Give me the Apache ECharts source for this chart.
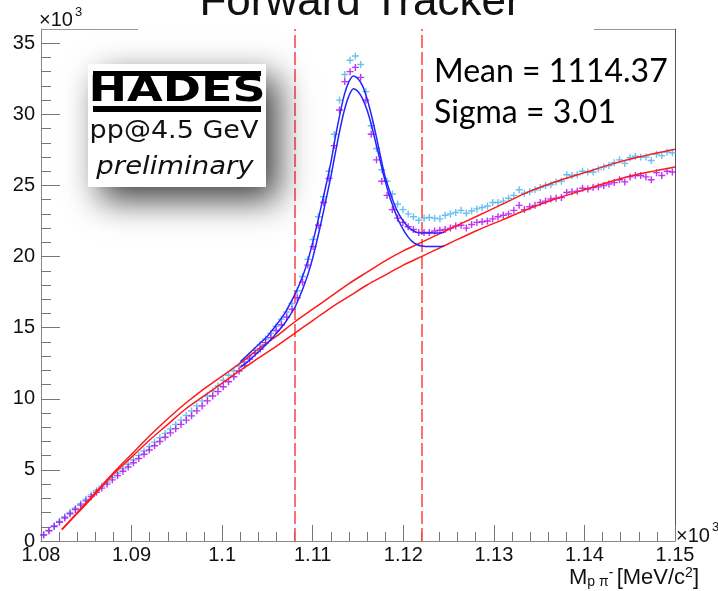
<!DOCTYPE html>
<html><head><meta charset="utf-8">
<script src="https://cdn.jsdelivr.net/npm/echarts@6/dist/echarts.min.js"></script>
<style>html,body{margin:0;padding:0;background:#fff}#c{width:718px;height:591px}</style>
</head><body><div id="c"></div>
<script>
// ---- data (x in MeV/c^2, y in units of 10^3 counts) ----
const xMin = 1080, xMax = 1150, nBins = 120;
const yTicks = [0, 5, 10, 15, 20, 25, 30, 35];
const cyanCounts = [0.45,0.75,1.07,1.38,1.7,2.0,2.3,2.62,2.93,3.24,3.55,3.86,4.15,4.46,4.77,5.08,5.4,5.7,6.02,6.33,6.64,6.95,7.26,7.57,7.88,8.2,8.5,8.82,9.14,9.5,9.85,10.2,10.55,10.9,11.3,11.65,11.95,12.3,12.6,13.0,13.4,13.8,14.2,14.6,15.1,15.6,16.1,16.7,
  17.6,18.6,19.8,21.2,22.8,24.2,26.0,28.6,31.0,32.8,33.8,34.1,33.5,31.6,29.2,27.6,26.1,25.3,24.4,23.7,23.3,23.0,22.8,22.55,22.7,
  22.75,22.7,22.65,22.9,23.0,23.1,23.25,23.05,23.2,23.35,23.45,23.55,23.8,23.8,23.9,24.1,24.3,24.7,24.45,24.55,24.7,24.85,25.0,25.05,25.25,25.3,25.75,25.7,25.75,26.0,25.95,25.95,26.15,26.3,26.4,26.6,26.8,26.55,26.95,27.05,27.0,27.0,26.75,27.2,27.1,27.35,27.3];
const magentaCounts = [0.42,0.72,1.02,1.32,1.62,1.92,2.22,2.52,2.82,3.12,3.42,3.72,4.0,4.3,4.6,4.9,5.2,5.5,5.8,6.1,6.4,6.7,7.0,7.3,7.6,7.9,8.2,8.5,8.8,9.15,9.5,9.85,10.2,10.5,10.85,11.2,11.55,11.95,12.35,12.8,13.2,13.5,13.95,14.3,14.8,15.2,15.75,16.3,
  17.1,18.2,19.4,20.7,22.2,23.8,25.5,27.8,30.3,32.3,33.0,33.3,32.6,31.0,28.6,26.8,25.3,24.3,23.3,22.7,22.4,22.1,21.9,21.7,21.7,
  21.7,21.8,21.85,21.9,22.0,22.15,22.2,22.0,22.25,22.4,22.45,22.5,22.65,22.8,22.9,23.0,23.25,23.6,23.3,23.5,23.6,23.8,23.9,24.05,24.1,24.15,24.5,24.55,24.6,24.8,24.75,24.85,24.9,25.0,25.1,25.2,25.4,25.25,25.6,25.7,25.7,25.6,25.4,25.9,25.7,26.0,25.95];
const bgX = [1082.3,1085,1088,1090,1092,1094,1096,1098,1100,1102,1104,1106,1108,1110,1112,1114,1116,1118,1120,1122,1125,1128,1131,1134,1137,1140,1143,1146,1150];
const bgUpperY = [0.8,2.7,4.8,6.1,7.4,8.6,9.7,10.7,11.6,12.5,13.5,14.4,15.4,16.3,17.2,18.1,18.9,19.7,20.4,21.0,21.9,22.8,23.7,24.6,25.3,25.9,26.5,27.0,27.55];
const bgLowerY = [0.8,2.6,4.7,5.9,7.1,8.2,9.3,10.2,11.1,12.0,12.85,13.7,14.6,15.5,16.4,17.2,18.0,18.7,19.4,20.0,20.9,21.8,22.6,23.4,24.1,24.7,25.3,25.8,26.3];
const fitX = [1102,1103,1104,1105,1106,1107,1108,1108.5,1109,1109.5,1110,1110.5,1111,1111.5,1112,1112.5,1113,1113.5,1114,1114.5,1115,1115.5,1116,1116.5,1117,1117.5,1118,1118.5,1119,1119.5,1120,1120.5,1121,1121.5,1122,1123,1124,1124.5];
const fitUpperY = [12.6,13.2,13.8,14.4,15.2,16.1,17.3,18.0,18.8,19.8,21.0,22.3,23.7,25.1,26.6,28.4,30.0,31.4,32.3,32.7,32.5,32.0,31.1,29.9,28.5,27.0,25.6,24.6,23.7,23.0,22.5,22.1,21.85,21.7,21.65,21.65,21.65,21.7];
const fitLowerY = [12.2,12.7,13.3,13.9,14.6,15.4,16.4,17.1,17.9,18.8,19.9,21.2,22.6,24.1,25.6,27.3,28.9,30.3,31.3,31.8,31.6,31.1,30.3,29.2,27.9,26.6,25.3,24.2,23.3,22.5,21.9,21.4,21.05,20.85,20.75,20.7,20.7,20.75];
const cutLow = 1108, cutHigh = 1122;
const meanText = 'Mean = 1114.37', sigmaText = 'Sigma = 3.01';

// ---- build ----
const binW = (xMax - xMin) / nBins;
const histPts = arr => arr.map((v, i) => [xMin + (i + 0.5) * binW, v]);
const zip = (xs, ys) => xs.map((x, i) => [x, ys[i]]);
const plus = 'path://M2,0h1v2h2v1h-2v2h-1v-2h-2v-1h2z';
const F = '"Liberation Sans", Arial, sans-serif';
const T = (x, y, text, font, align, extra) => Object.assign({type: 'text', x, y, z: 50, style: {
  text, font, fill: '#111', align: align || 'left', verticalAlign: 'middle', textAlign: align || 'left', textVerticalAlign: 'middle'}}, extra || {});

const chart = echarts.init(document.getElementById('c'), null, {renderer: 'canvas'});
const lineSeries = (data, color, extra) => Object.assign({
  type: 'line', data, smooth: 0.3, symbol: 'none', showSymbol: false, silent: true,
  lineStyle: {color, width: 1.5}, z: 5
}, extra || {});

chart.setOption({
  animation: false,
  backgroundColor: '#fff',
  grid: {left: 41, right: 43, top: 29, bottom: 50, containLabel: false},
  xAxis: [{
    type: 'value', min: xMin, max: xMax, interval: 10,
    axisLine: {show: true, onZero: false, lineStyle: {color: '#888', width: 1}},
    axisTick: {show: true, inside: true, length: 16, lineStyle: {color: '#777'}},
    minorTick: {show: true, splitNumber: 5, length: 9, lineStyle: {color: '#777'}},
    axisLabel: {formatter: v => String(v / 1000), fontSize: 20, color: '#111', fontFamily: F, margin: 4},
    splitLine: {show: false}, minorSplitLine: {show: false}
  }],
  yAxis: [{
    type: 'value', min: 0, max: 36, interval: 5, position: 'left',
    axisLine: {show: true, onZero: false, lineStyle: {color: '#888', width: 1}},
    axisTick: {show: true, inside: true, length: 19, customValues: yTicks, lineStyle: {color: '#777'}},
    axisLabel: {customValues: yTicks, fontSize: 20, color: '#111', fontFamily: F, margin: 6},
    splitLine: {show: false}
  }, {
    type: 'value', min: 0, max: 36, interval: 1, position: 'left',
    axisLine: {show: false}, axisLabel: {show: false}, splitLine: {show: false},
    axisTick: {show: true, inside: true, length: 10, lineStyle: {color: '#777'}}
  }, {
    type: 'value', min: 0, max: 36, position: 'right',
    axisLine: {show: true, onZero: false, lineStyle: {color: '#555', width: 1}},
    axisTick: {show: false}, axisLabel: {show: false}, splitLine: {show: false}
  }],
  series: [
    {type: 'scatter', data: histPts(cyanCounts), symbol: plus, symbolSize: 7, itemStyle: {color: '#45b0ec'}, silent: true, z: 2},
    {type: 'scatter', data: histPts(magentaCounts), symbol: plus, symbolSize: 7, itemStyle: {color: '#b000f0'}, silent: true, z: 3},
    lineSeries(zip(bgX, bgUpperY), '#ff1a1a', {
      markLine: {symbol: 'none', silent: true, label: {show: false},
        lineStyle: {color: '#ff4040', type: [13, 4], width: 1.5},
        data: [{xAxis: cutLow}, {xAxis: cutHigh}]}
    }),
    lineSeries(zip(bgX, bgLowerY), '#ff1a1a'),
    lineSeries(zip(fitX, fitUpperY), '#2323ff'),
    lineSeries(zip(fitX, fitLowerY), '#2323ff')
  ],
  graphic: [
    T(360, 3, 'Forward Tracker', '44px ' + F, 'center'),
    T(39, 20, '×10', '20px ' + F),
    T(75, 12, '3', '13px ' + F),
    T(676, 536, '×10', '20px ' + F),
    T(712, 527, '3', '13px ' + F),
    {type: 'text', x: 699, y: 578, z: 50, style: {
      text: '{m|M}{s|p π}{u|-} {m|[MeV/c}{u|2}{m|]}', align: 'right', verticalAlign: 'middle', textAlign: 'right', textVerticalAlign: 'middle',
      rich: {m: {font: '22px ' + F, fill: '#111', color: '#111'}, s: {font: '14px ' + F, fill: '#111', color: '#111', padding: [8, 0, 0, 0]}, u: {font: '14px ' + F, fill: '#111', color: '#111', padding: [0, 0, 10, 0]}}
    }},
    {type: 'line', z: 50, shape: {x1: 41, y1: 29.5, x2: 138, y2: 29.5}, style: {stroke: '#999', lineWidth: 1}},
    {type: 'line', z: 50, shape: {x1: 594, y1: 29.5, x2: 675, y2: 29.5}, style: {stroke: '#999', lineWidth: 1}},
    {type: 'rect', z: 60, shape: {x: 88, y: 64, width: 178, height: 123}, style: {fill: '#fff', shadowBlur: 32, shadowOffsetX: 12, shadowOffsetY: 13, shadowColor: 'rgba(0,0,0,0.75)'}},
    {type: 'rect', z: 61, shape: {x: 93, y: 71, width: 168, height: 5}, style: {fill: '#000'}},
    {type: 'rect', z: 61, shape: {x: 93, y: 106, width: 168, height: 6}, style: {fill: '#000'}},
    {type: 'text', z: 61, x: 177, y: 92, scaleX: 1.28, style: {text: 'HADES', font: 'bold 36px "DejaVu Sans"', fill: '#000', align: 'center', verticalAlign: 'middle', textAlign: 'center', textVerticalAlign: 'middle'}},
    {type: 'text', z: 61, x: 174, y: 131, scaleX: 1.08, style: {text: 'pp@4.5 GeV', font: '25px "DejaVu Sans"', fill: '#111', align: 'center', verticalAlign: 'middle', textAlign: 'center', textVerticalAlign: 'middle'}},
    {type: 'text', z: 61, x: 175, y: 167, scaleX: 1.1, style: {text: 'preliminary', font: 'italic 25px "DejaVu Sans"', fill: '#111', align: 'center', verticalAlign: 'middle', textAlign: 'center', textVerticalAlign: 'middle'}},
    {type: 'text', z: 61, x: 434, y: 72, style: {text: meanText, font: '32px Lato', fill: '#000', align: 'left', verticalAlign: 'middle', textAlign: 'left', textVerticalAlign: 'middle'}},
    {type: 'text', z: 61, x: 434, y: 113, style: {text: sigmaText, font: '32px Lato', fill: '#000', align: 'left', verticalAlign: 'middle', textAlign: 'left', textVerticalAlign: 'middle'}}
  ]
});
</script>
</body></html>
